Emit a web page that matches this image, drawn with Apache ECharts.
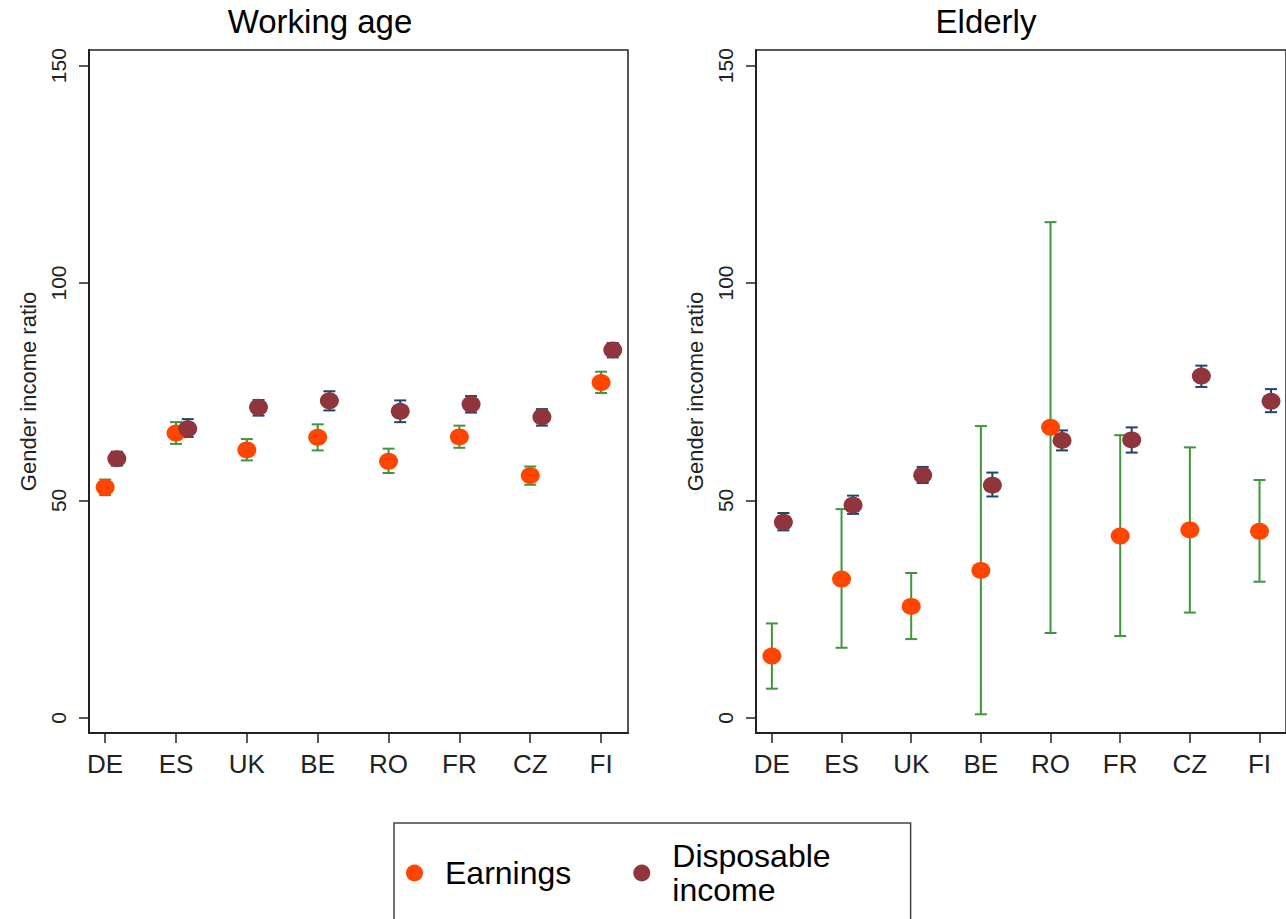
<!DOCTYPE html>
<html>
<head>
<meta charset="utf-8">
<script src="https://cdn.jsdelivr.net/npm/echarts@6/dist/echarts.min.js"></script>
<style>
html,body{margin:0;padding:0;background:#fff;}
#chart{width:1286px;height:919px;}
</style>
</head>
<body>
<div id="chart"></div>
<script>
const categories = ['DE','ES','UK','BE','RO','FR','CZ','FI'];
const yTicks = [0, 50, 100, 150];

// Working age
const workEarn   = [53.0, 65.5, 61.6, 64.5, 59.0, 64.6, 55.7, 77.1];
const workEarnLo = [51.2, 63.0, 59.2, 61.5, 56.3, 62.1, 53.6, 74.7];
const workEarnHi = [54.8, 68.0, 64.1, 67.5, 61.9, 67.2, 57.8, 79.6];
const workDisp   = [59.6, 66.5, 71.4, 72.9, 70.5, 72.1, 69.2, 84.6];
const workDispLo = [58.0, 64.6, 69.5, 70.7, 68.0, 70.2, 67.2, 82.9];
const workDispHi = [61.2, 68.7, 73.1, 75.1, 73.0, 74.0, 71.0, 86.2];

// Elderly
const eldEarn   = [14.2, 31.9, 25.6, 33.9, 66.8, 41.8, 43.2, 42.9];
const eldEarnLo = [6.7, 16.1, 18.1, 0.8, 19.5, 18.8, 24.2, 31.3];
const eldEarnHi = [21.7, 48.0, 33.3, 67.1, 114.0, 65.0, 62.2, 54.7];
const eldDisp   = [45.0, 48.9, 55.8, 53.5, 63.8, 63.9, 78.6, 72.8];
const eldDispLo = [43.1, 46.9, 54.0, 50.9, 61.5, 61.0, 76.1, 70.3];
const eldDispHi = [47.1, 51.1, 57.7, 56.4, 66.1, 66.8, 81.0, 75.6];

const FONT = "'Liberation Sans', Arial, sans-serif";
const ORANGE = '#FF4500', MAROON = '#90353B', GREEN = '#3E963E', NAVY = '#1A476F';
const DISP_OFFSET = 0.165;
const xPos = categories.map((c, i) => i + 1);

function pts(vals, off) { return vals.map((v, i) => [xPos[i] + off, v]); }
function bars(lo, hi, off) { return lo.map((l, i) => [xPos[i] + off, l, hi[i]]); }

function errRender(color) {
  return function (params, api) {
    const x = api.value(0), lo = api.value(1), hi = api.value(2);
    const a = api.coord([x, hi]), b = api.coord([x, lo]);
    const hw = 6;
    const style = { stroke: color, lineWidth: 2 };
    return { type: 'group', children: [
      { type: 'line', shape: { x1: a[0], y1: a[1], x2: b[0], y2: b[1] }, style },
      { type: 'line', shape: { x1: a[0] - hw, y1: a[1], x2: a[0] + hw, y2: a[1] }, style },
      { type: 'line', shape: { x1: b[0] - hw, y1: b[1], x2: b[0] + hw, y2: b[1] }, style }
    ]};
  };
}

function xAxisDef(gi) {
  return {
    type: 'value', gridIndex: gi, min: 0.772, max: 8.38,
    axisLine: { show: true, onZero: false, lineStyle: { color: '#222', width: 2 } },
    axisTick: { show: true, length: 10, customValues: xPos, lineStyle: { color: '#222', width: 1.5 } },
    axisLabel: { customValues: xPos, formatter: v => categories[Math.round(v) - 1], fontSize: 26, color: '#222', fontFamily: FONT, margin: 18 },
    splitLine: { show: false }
  };
}
function yAxisDef(gi) {
  return {
    type: 'value', gridIndex: gi, min: -3.5, max: 153.6,
    name: 'Gender income ratio', nameLocation: 'middle', nameGap: 50, nameRotate: 90,
    nameTextStyle: { fontSize: 22, color: '#222', fontFamily: FONT },
    axisLine: { show: true, onZero: false, lineStyle: { color: '#222', width: 2 } },
    axisTick: { show: true, length: 10, customValues: yTicks, lineStyle: { color: '#222', width: 1.5 } },
    axisLabel: { customValues: yTicks, rotate: 90, fontSize: 21, color: '#222', fontFamily: FONT, margin: 20 },
    splitLine: { show: false }
  };
}

function panelSeries(gi, earn, eLo, eHi, disp, dLo, dHi) {
  return [
    { type: 'custom', xAxisIndex: gi, yAxisIndex: gi, renderItem: errRender(GREEN), data: bars(eLo, eHi, 0), encode: { x: 0, y: [1, 2] }, z: 2, silent: true },
    { type: 'custom', xAxisIndex: gi, yAxisIndex: gi, renderItem: errRender(NAVY), data: bars(dLo, dHi, DISP_OFFSET), encode: { x: 0, y: [1, 2] }, z: 2, silent: true },
    { name: 'Earnings', type: 'scatter', xAxisIndex: gi, yAxisIndex: gi, data: pts(earn, 0), symbol: 'circle', symbolSize: [19, 17], itemStyle: { color: ORANGE, opacity: 1 }, z: 5 },
    { name: 'Disposable income', type: 'scatter', xAxisIndex: gi, yAxisIndex: gi, data: pts(disp, DISP_OFFSET), symbol: 'circle', symbolSize: [19, 17], itemStyle: { color: MAROON, opacity: 1 }, z: 5 }
  ];
}

const chart = echarts.init(document.getElementById('chart'), null, { renderer: 'svg' });
chart.setOption({
  backgroundColor: '#fff',
  animation: false,
  title: [
    { text: 'Working age', left: 320, top: 5, textAlign: 'center', padding: 0, textStyle: { fontSize: 33, fontWeight: 'normal', color: '#000', fontFamily: FONT } },
    { text: 'Elderly', left: 986, top: 5, textAlign: 'center', padding: 0, textStyle: { fontSize: 33, fontWeight: 'normal', color: '#000', fontFamily: FONT } }
  ],
  grid: [
    { left: 89, top: 50, width: 539, height: 683, show: true, borderColor: '#222', borderWidth: 1.5, backgroundColor: '#fff' },
    { left: 756, top: 50, width: 540, height: 683, show: true, borderColor: '#222', borderWidth: 1.5, backgroundColor: '#fff' }
  ],
  xAxis: [xAxisDef(0), xAxisDef(1)],
  yAxis: [yAxisDef(0), yAxisDef(1)],
  legend: {
    data: ['Earnings', 'Disposable income'],
    left: 394, top: 823, orient: 'horizontal',
    icon: 'circle', itemWidth: 19, itemHeight: 17, itemGap: 62,
    selectedMode: false,
    borderColor: '#444', borderWidth: 1.5, backgroundColor: '#fff',
    padding: [16, 80, 40, 12],
    formatter: n => n === 'Disposable income' ? 'Disposable\nincome' : n,
    textStyle: { fontSize: 32, lineHeight: 34, color: '#000', fontFamily: FONT, padding: [0, 0, 0, 16] }
  },
  series: [].concat(
    panelSeries(0, workEarn, workEarnLo, workEarnHi, workDisp, workDispLo, workDispHi),
    panelSeries(1, eldEarn, eldEarnLo, eldEarnHi, eldDisp, eldDispLo, eldDispHi)
  )
});
</script>
</body>
</html>
